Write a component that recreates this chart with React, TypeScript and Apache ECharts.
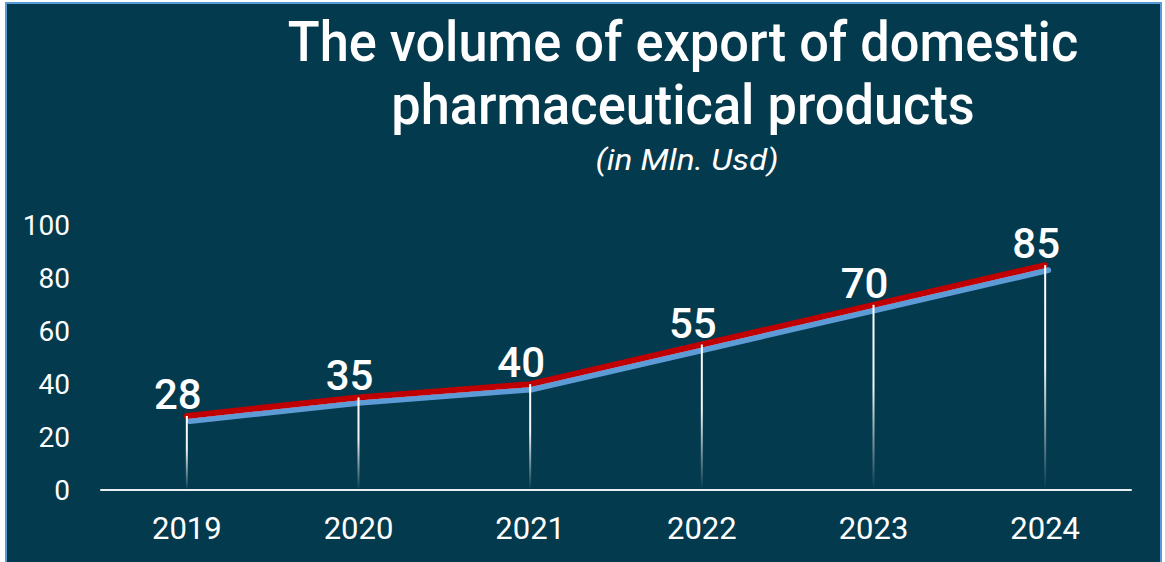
import React, { useEffect, useRef } from "react";
import * as echarts from "echarts";

const years = ["2019", "2020", "2021", "2022", "2023", "2024"];
const exportValues = [28, 35, 40, 55, 70, 85];
const titleLines = ["The volume of export of domestic", "pharmaceutical products"];
const subtitle = "(in Mln. Usd)";

export default function App() {
  const ref = useRef<HTMLDivElement>(null);
  useEffect(() => {
    if (!ref.current) return;
    const chart = echarts.init(ref.current, null, { renderer: "svg" });
    chart.setOption({
      animation: false,
      backgroundColor: "transparent",
      graphic: [
        {
          type: "text",
          x: 683,
          y: 42,
          scaleX: 0.935,
          style: {
            text: titleLines[0],
            font: "500 56px Roboto",
            fill: "#ffffff",
            textAlign: "center",
            textVerticalAlign: "middle",
          },
        },
        {
          type: "text",
          x: 683,
          y: 105,
          scaleX: 0.935,
          style: {
            text: titleLines[1],
            font: "500 56px Roboto",
            fill: "#ffffff",
            textAlign: "center",
            textVerticalAlign: "middle",
          },
        },
        {
          type: "text",
          x: 687,
          y: 160,
          scaleX: 1.15,
          style: {
            text: subtitle,
            font: "italic 29px Roboto",
            fill: "#ffffff",
            textAlign: "center",
            textVerticalAlign: "middle",
          },
        },
      ],
      grid: { left: 101, right: 34, top: 225.5, bottom: 72, containLabel: false },
      xAxis: {
        type: "category",
        data: years,
        boundaryGap: true,
        axisLine: { show: true, lineStyle: { color: "#E8EEF2", width: 2 } },
        axisTick: { show: false },
        axisLabel: { color: "#ffffff", fontSize: 31, fontFamily: "Roboto", margin: 23 },
        splitLine: { show: false },
      },
      yAxis: {
        type: "value",
        min: 0,
        max: 100,
        interval: 20,
        axisLine: { show: false },
        axisTick: { show: false },
        splitLine: { show: false },
        axisLabel: { color: "#ffffff", fontSize: 28, fontFamily: "Roboto", margin: 31 },
      },
      series: [
        {
          type: "line",
          data: exportValues,
          z: 2,
          symbol: "circle",
          symbolSize: 1,
          itemStyle: { color: "rgba(0,0,0,0)" },
          lineStyle: {
            color: "#C00000",
            width: 6,
            cap: "round",
            shadowColor: "#5B9BD5",
            shadowBlur: 0,
            shadowOffsetX: 3,
            shadowOffsetY: 5,
          },
          label: {
            show: true,
            position: "top",
            distance: 0,
            offset: [-9, 0],
            color: "#ffffff",
            fontSize: 42,
            fontWeight: 500,
            fontFamily: "Roboto",
          },
        },
        {
          type: "bar",
          data: exportValues,
          z: 3,
          barWidth: 2,
          itemStyle: {
            color: new echarts.graphic.LinearGradient(0, 0, 0, 1, [
              { offset: 0, color: "rgba(255,255,255,1)" },
              { offset: 0.45, color: "rgba(255,255,255,0.95)" },
              { offset: 1, color: "rgba(255,255,255,0)" },
            ]),
          },
        },
      ],
    });
    return () => chart.dispose();
  }, []);

  return (
    <div style={{ position: "fixed", left: 0, top: 0, width: 1165, height: 562, background: "#ffffff", overflow: "hidden" }}>
      <div
        style={{
          position: "absolute",
          left: 5,
          top: 2,
          width: 1157,
          height: 620,
          boxSizing: "border-box",
          border: "2px solid #5B9BD5",
          background: "#043A4D",
        }}
      />
      <div ref={ref} style={{ position: "absolute", left: 0, top: 0, width: 1165, height: 562 }} />
    </div>
  );
}
